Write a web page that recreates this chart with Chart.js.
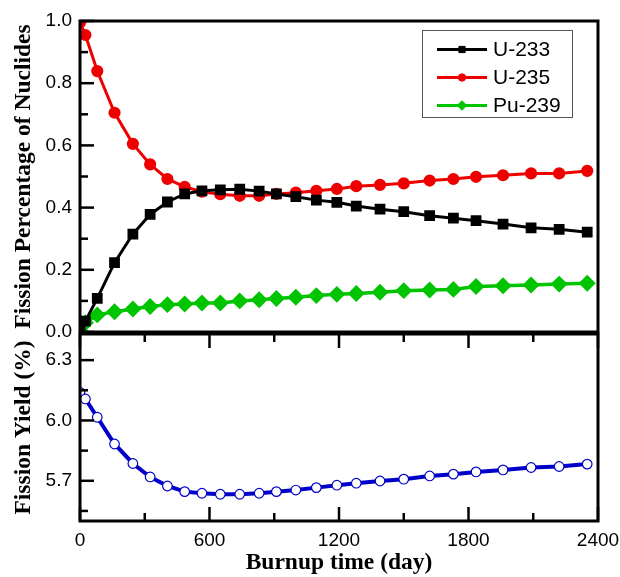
<!DOCTYPE html>
<html>
<head>
<meta charset="utf-8">
<script src="https://cdn.jsdelivr.net/npm/chart.js@4.4.1/dist/chart.umd.min.js"></script>
<style>
  html, body { margin: 0; padding: 0; background: #fff; }
  #wrap { position: relative; width: 620px; height: 577px; }
  #wrap canvas { position: absolute; left: 0; top: 0; }
</style>
</head>
<body>
<div id="wrap">
  <canvas id="topChart" width="620" height="577"></canvas>
  <canvas id="bottomChart" width="620" height="577"></canvas>
</div>
<script>
// burnup time (day) of each calculation step
const burnupDays = [0, 25, 80, 160, 245, 325, 405, 485, 565, 650, 740, 830, 910,
  1000, 1095, 1190, 1280, 1390, 1500, 1620, 1730, 1835, 1960, 2090, 2220, 2350];

// fission percentage of nuclides
const u233 = [0.008, 0.035, 0.108, 0.223, 0.315, 0.378, 0.418, 0.444, 0.454, 0.457, 0.459, 0.453, 0.444,
  0.435, 0.424, 0.417, 0.405, 0.395, 0.387, 0.374, 0.366, 0.358, 0.347, 0.335, 0.330, 0.321];
const u235 = [0.995, 0.955, 0.839, 0.705, 0.605, 0.539, 0.492, 0.467, 0.451, 0.443, 0.438, 0.438, 0.444,
  0.448, 0.454, 0.460, 0.469, 0.473, 0.478, 0.487, 0.492, 0.499, 0.504, 0.510, 0.510, 0.518];
const pu239 = [0.004, 0.030, 0.055, 0.065, 0.074, 0.082, 0.088, 0.090, 0.093, 0.093, 0.100, 0.104, 0.108,
  0.112, 0.117, 0.121, 0.124, 0.128, 0.133, 0.135, 0.137, 0.146, 0.149, 0.151, 0.154, 0.157];

// fission yield (%)
const fissionYield = [6.140, 6.107, 6.016, 5.883, 5.786, 5.719, 5.674, 5.646, 5.638, 5.633, 5.633, 5.638, 5.646,
  5.654, 5.666, 5.678, 5.688, 5.699, 5.708, 5.724, 5.733, 5.744, 5.754, 5.766, 5.771, 5.783];

const seriesNames = ["U-233", "U-235", "Pu-239"];
const xTickValues = [0, 300, 600, 900, 1200, 1500, 1800, 2100, 2400];
const xLabelValues = [0, 600, 1200, 1800, 2400];
const topTickValues = [0, 0.1, 0.2, 0.3, 0.4, 0.5, 0.6, 0.7, 0.8, 0.9, 1.0];
const topLabelValues = [0, 0.2, 0.4, 0.6, 0.8, 1.0];
const bottomTickValues = [5.55, 5.7, 5.85, 6.0, 6.15, 6.3];
const bottomLabelValues = [5.7, 6.0, 6.3];

const pts = (ys) => burnupDays.map((d, i) => ({ x: d, y: ys[i] }));
const isIn = (list, v) => list.some(l => Math.abs(l - v) < 1e-6);

const tickFont = { family: "'Liberation Sans', Arial, sans-serif", size: 19 };
const titleFont = { family: "'Liberation Serif', 'Times New Roman', serif", size: 23.5, weight: 'bold' };

// inward tick marks and the black frame
const frameTicks = {
  id: 'frameTicks',
  afterDatasetsDraw(chart, args, opts) {
    const { ctx, chartArea: a, scales } = chart;
    const line = (x1, y1, x2, y2) => { ctx.beginPath(); ctx.moveTo(x1, y1); ctx.lineTo(x2, y2); ctx.stroke(); };
    ctx.save();
    ctx.strokeStyle = '#000';
    ctx.lineWidth = 2.5;
    scales.y.ticks.forEach(t => {
      const py = scales.y.getPixelForValue(t.value);
      line(a.left, py, a.left + (t.label ? 14 : 8), py);
    });
    if (opts.xTicks) {
      scales.x.ticks.forEach(t => {
        const px = scales.x.getPixelForValue(t.value);
        const len = t.label ? 14 : 8;
        line(px, a.bottom, px, a.bottom - len);
        line(px, a.top, px, a.top + len);
      });
    }
    ctx.lineWidth = 3;
    ctx.strokeRect(a.left, a.top, a.right - a.left, a.bottom - a.top);
    ctx.restore();
  }
};

// boxed legend in the upper right corner
const boxLegend = {
  id: 'boxLegend',
  afterDraw(chart) {
    const ctx = chart.ctx;
    ctx.save();
    ctx.strokeStyle = '#555';
    ctx.lineWidth = 1;
    ctx.strokeRect(422.5, 30.5, 150, 87);
    chart.data.datasets.forEach((ds, i) => {
      const y = 49.5 + i * 28;
      ctx.strokeStyle = ds.borderColor;
      ctx.lineWidth = 3;
      ctx.beginPath(); ctx.moveTo(437, y); ctx.lineTo(487, y); ctx.stroke();
      ctx.fillStyle = ds.pointBackgroundColor;
      ctx.lineWidth = 1;
      Chart.helpers.drawPoint(ctx, { pointStyle: ds.pointStyle, radius: ds.pointRadius * 0.8, rotation: 0, borderWidth: 1 }, 462, y);
      ctx.fillStyle = '#000';
      ctx.font = "21px 'Liberation Sans', Arial, sans-serif";
      ctx.textBaseline = 'middle';
      ctx.fillText(ds.label, 493, y + 1);
    });
    ctx.restore();
  }
};

const lineSet = (label, data, color, style, radius, width) => ({
  label: label,
  data: pts(data),
  borderColor: color,
  backgroundColor: color,
  pointBackgroundColor: color,
  pointBorderColor: color,
  pointStyle: style,
  pointRadius: radius,
  borderWidth: width,
  tension: 0
});

new Chart(document.getElementById('topChart'), {
  type: 'line',
  data: {
    datasets: [
      lineSet(seriesNames[0], u233, '#000000', 'rect', 5.5, 3),
      lineSet(seriesNames[1], u235, '#ee0000', 'circle', 4.6, 3),
      lineSet(seriesNames[2], pu239, '#00c400', 'rectRot', 6, 3.5)
    ]
  },
  options: {
    responsive: false,
    animation: false,
    devicePixelRatio: 1,
    layout: { padding: { left: 0, right: 22, top: 21, bottom: 245 } },
    plugins: { legend: { display: false }, tooltip: { enabled: false }, frameTicks: { xTicks: false } },
    scales: {
      x: { type: 'linear', min: 0, max: 2400, display: false },
      y: {
        type: 'linear', min: 0, max: 1,
        afterBuildTicks: s => { s.ticks = topTickValues.map(v => ({ value: v })); },
        afterFit: s => { s.width = 80; s.paddingTop = 0; s.paddingBottom = 0; },
        grid: { display: false, drawTicks: false },
        border: { display: false },
        ticks: {
          autoSkip: false, padding: 8, color: '#000', font: tickFont,
          callback: v => isIn(topLabelValues, v) ? v.toFixed(1) : ''
        },
        title: { display: true, text: 'Fission Percentage of Nuclides', color: '#000', font: titleFont, padding: { top: 10, bottom: 0 } }
      }
    }
  },
  plugins: [frameTicks, boxLegend]
});

new Chart(document.getElementById('bottomChart'), {
  type: 'line',
  data: {
    datasets: [{
      label: 'Fission Yield',
      data: pts(fissionYield),
      borderColor: '#0000c8',
      borderWidth: 4,
      pointStyle: 'circle',
      pointRadius: 4.8,
      pointBorderWidth: 1.2,
      pointBackgroundColor: '#ffffff',
      pointBorderColor: '#0000c8',
      tension: 0
    }]
  },
  options: {
    responsive: false,
    animation: false,
    devicePixelRatio: 1,
    layout: { padding: { left: 0, right: 22, top: 334, bottom: 0 } },
    plugins: { legend: { display: false }, tooltip: { enabled: false }, frameTicks: { xTicks: true } },
    scales: {
      x: {
        type: 'linear', min: 0, max: 2400,
        afterBuildTicks: s => { s.ticks = xTickValues.map(v => ({ value: v })); },
        afterFit: s => { s.height = 56; s.paddingLeft = 0; s.paddingRight = 0; },
        grid: { display: false, drawTicks: false },
        border: { display: false },
        ticks: {
          autoSkip: false, maxRotation: 0, padding: 8, color: '#000', font: tickFont,
          callback: v => isIn(xLabelValues, v) ? String(v) : ''
        },
        title: { display: true, text: 'Burnup time (day)', color: '#000', font: titleFont, padding: { top: 0, bottom: 0 } }
      },
      y: {
        type: 'linear', min: 5.5, max: 6.43,
        afterBuildTicks: s => { s.ticks = bottomTickValues.map(v => ({ value: v })); },
        afterFit: s => { s.width = 80; s.paddingTop = 0; s.paddingBottom = 0; },
        grid: { display: false, drawTicks: false },
        border: { display: false },
        ticks: {
          autoSkip: false, padding: 8, color: '#000', font: tickFont,
          callback: v => isIn(bottomLabelValues, v) ? v.toFixed(1) : ''
        },
        title: { display: true, text: 'Fission Yield (%)', color: '#000', font: titleFont, padding: { top: 10, bottom: 0 } }
      }
    }
  },
  plugins: [frameTicks]
});
</script>
</body>
</html>
